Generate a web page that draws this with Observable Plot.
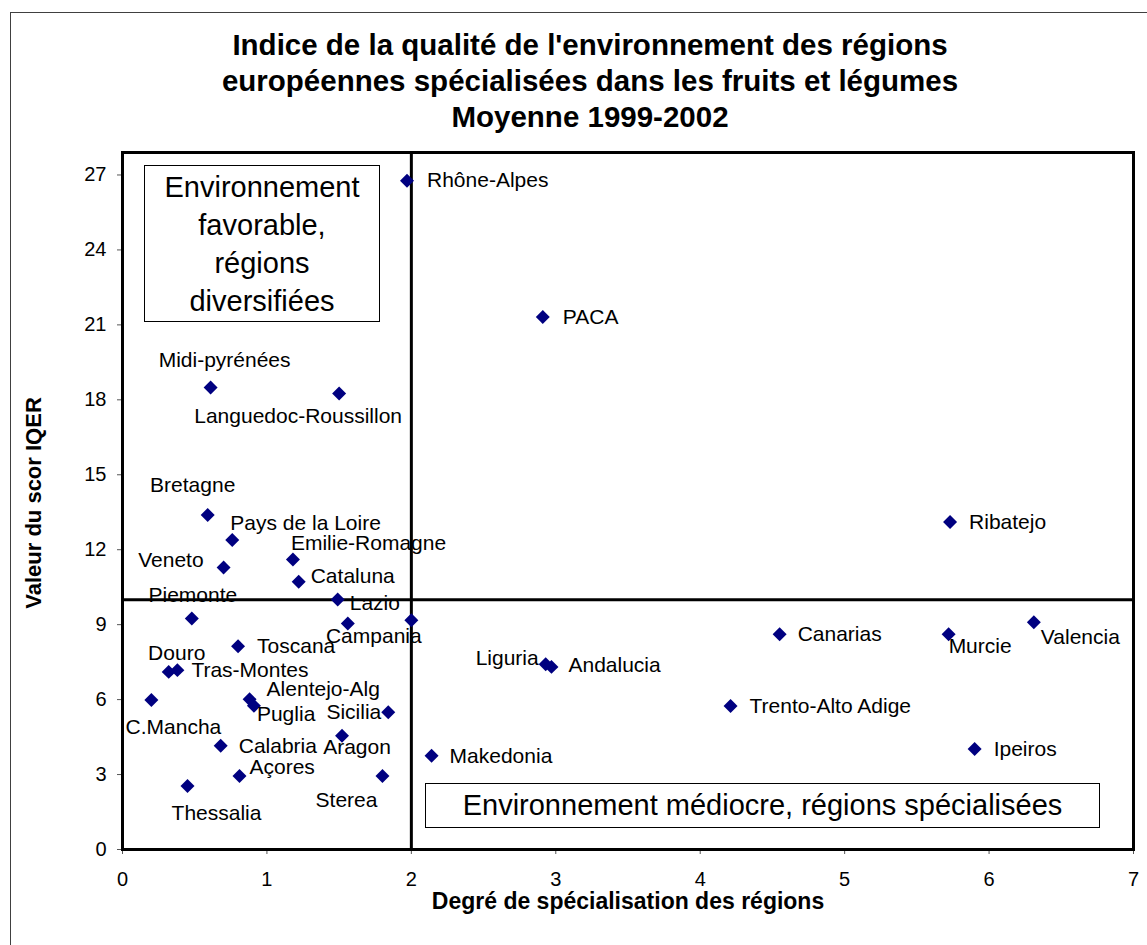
<!DOCTYPE html>
<html>
<head>
<meta charset="utf-8">
<script src="https://cdn.jsdelivr.net/npm/d3@7"></script>
<script src="https://cdn.jsdelivr.net/npm/@observablehq/plot@0.6"></script>
<style>
  html, body { margin: 0; padding: 0; background: #fff; width: 1147px; height: 945px; overflow: hidden;
    font-family: "Liberation Sans", Arial, sans-serif; }
  #frame { position: absolute; left: 10px; top: 12px; width: 1200px; height: 1000px;
    border: 1px solid #404040; box-sizing: border-box; }
  #title { position: absolute; left: 0; top: 27px; width: 1180px; text-align: center;
    font-weight: bold; font-size: 29.5px; line-height: 36px; color: #000; }
  #chart { position: absolute; left: 0; top: 135px; }
  .note { position: absolute; border: 1.5px solid #000; background: #fff; display: flex;
    align-items: center; justify-content: center; text-align: center; font-size: 29px;
    color: #000; box-sizing: border-box; }
</style>
</head>
<body>
<div id="frame"></div>
<div id="title">Indice de la qualité de l'environnement des régions<br>européennes spécialisées dans les fruits et légumes<br>Moyenne 1999-2002</div>
<div id="chart"></div>
<div class="note" style="left:144px; top:165px; width:236px; height:157px; line-height:38px;">Environnement<br>favorable,<br>régions<br>diversifiées</div>
<div class="note" style="left:425px; top:783px; width:675px; height:45px;">Environnement médiocre, régions spécialisées</div>
<script>
// ---- Data ----
const regions = [
  "Rhône-Alpes", "PACA", "Midi-pyrénées", "Languedoc-Roussillon", "Bretagne",
  "Pays de la Loire", "Emilie-Romagne", "Veneto", "Cataluna", "Lazio",
  "Piemonte", "Campania", null, "Toscana", "Douro",
  "Tras-Montes", "C.Mancha", "Alentejo-Alg", "Puglia", "Sicilia",
  "Calabria", "Aragon", "Açores", "Sterea", "Thessalia",
  "Makedonia", "Liguria", "Andalucia", "Canarias", "Murcie",
  "Valencia", "Trento-Alto Adige", "Ipeiros", "Ribatejo"
];
const specialisation = [
  1.97, 2.91, 0.61, 1.50, 0.59,
  0.76, 1.18, 0.70, 1.22, 1.49,
  0.48, 1.56, 2.00, 0.80, 0.32,
  0.38, 0.20, 0.88, 0.91, 1.84,
  0.68, 1.52, 0.81, 1.80, 0.45,
  2.14, 2.93, 2.97, 4.55, 5.72,
  6.31, 4.21, 5.90, 5.73
];
const iqer = [
  26.77, 21.32, 18.49, 18.25, 13.39,
  12.39, 11.61, 11.29, 10.72, 10.01,
  9.25, 9.05, 9.18, 8.14, 7.11,
  7.18, 5.98, 6.01, 5.75, 5.49,
  4.15, 4.55, 2.94, 2.94, 2.54,
  3.75, 7.42, 7.31, 8.62, 8.62,
  9.10, 5.74, 4.02, 13.11
];
const xTicks = [0, 1, 2, 3, 4, 5, 6, 7];
const yTicks = [0, 3, 6, 9, 12, 15, 18, 21, 24, 27];
const xThreshold = 2;
const yThreshold = 10;
const xTitle = "Degré de spécialisation des régions";
const yTitle = "Valeur du scor IQER";

// ---- Label placement (layout only: anchor, pixel offsets) ----
const labelLayout = {
  "Rhône-Alpes": ["start", 20, 0], "PACA": ["start", 20, 0],
  "Midi-pyrénées": ["middle", 14, -27], "Languedoc-Roussillon": ["middle", -41, 23],
  "Bretagne": ["middle", -15, -30], "Pays de la Loire": ["start", -2, -17],
  "Emilie-Romagne": ["start", -2, -16], "Veneto": ["end", -20, -7],
  "Cataluna": ["start", 12, -5], "Lazio": ["start", 12, 4],
  "Piemonte": ["middle", 1, -23], "Campania": ["middle", 26, 13],
  "Toscana": ["start", 19, 0], "Douro": ["middle", 8, -19],
  "Tras-Montes": ["start", 14, 0], "C.Mancha": ["middle", 22, 27],
  "Alentejo-Alg": ["start", 17, -10], "Puglia": ["start", 3, 8],
  "Sicilia": ["end", -7, 0], "Calabria": ["start", 18, 0],
  "Aragon": ["middle", 15, 11], "Açores": ["start", 10, -9],
  "Sterea": ["middle", -36, 24], "Thessalia": ["middle", 29, 27],
  "Makedonia": ["start", 18, 0], "Liguria": ["end", -7, -6],
  "Andalucia": ["start", 17, -2], "Canarias": ["start", 18, 0],
  "Murcie": ["start", 0, 12], "Valencia": ["start", 7, 15],
  "Trento-Alto Adige": ["start", 19, 0], "Ipeiros": ["start", 19, 0],
  "Ribatejo": ["start", 19, 0]
};

const points = regions.map((name, i) => ({name, x: specialisation[i], y: iqer[i]}));

const labelMarks = points.filter(d => d.name).map(d => {
  const [anchor, dx, dy] = labelLayout[d.name];
  return Plot.text([d], {x: "x", y: "y", text: "name", textAnchor: anchor, dx, dy,
    fontSize: 21, fill: "#000", lineAnchor: "middle"});
});

const chart = Plot.plot({
  width: 1147,
  height: 810,
  marginTop: 17,
  marginBottom: 96,
  marginLeft: 122,
  marginRight: 14,
  x: {domain: [0, 7]},
  y: {domain: [0, 27.9]},
  style: {fontFamily: "'Liberation Sans', Arial, sans-serif", fontSize: "20px", background: "transparent", color: "#000", overflow: "visible"},
  marks: [
    Plot.axisY(yTicks, {tickSize: 5, tickPadding: 11, fontSize: 20, label: null, tickFormat: d3.format("d"), stroke: "#555", fill: "#000"}),
    Plot.axisX(xTicks, {tickSize: 5, tickPadding: 17, fontSize: 20, label: null, tickFormat: d3.format("d"), stroke: "#555", fill: "#000"}),
    Plot.ruleX([xThreshold], {stroke: "#000", strokeWidth: 3}),
    Plot.ruleY([yThreshold], {stroke: "#000", strokeWidth: 3}),
    Plot.frame({stroke: "#000", strokeWidth: 3}),
    Plot.dot(points, {x: "x", y: "y", symbol: "diamond2", r: 6.3, fill: "#000080", stroke: null}),
    ...labelMarks,
    Plot.text([yTitle], {text: d => d, frameAnchor: "left", dx: -89, dy: 2, rotate: -90,
      textAnchor: "middle", lineAnchor: "middle", fontSize: 22, fontWeight: "bold", fill: "#000"}),
    Plot.text([xTitle], {text: d => d, frameAnchor: "bottom", dy: 52,
      textAnchor: "middle", lineAnchor: "middle", fontSize: 23, fontWeight: "bold", fill: "#000"})
  ]
});
document.getElementById("chart").appendChild(chart);
</script>
</body>
</html>
